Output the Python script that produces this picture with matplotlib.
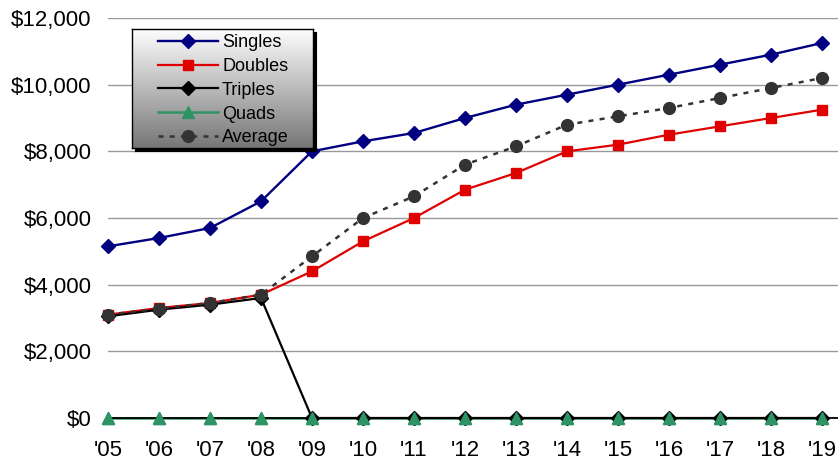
import numpy as np
import matplotlib.pyplot as plt
from matplotlib.colors import LinearSegmentedColormap

plt.rcParams['font.family'] = ['Liberation Sans', 'DejaVu Sans']

# yearly values per room type
years = ["'05", "'06", "'07", "'08", "'09", "'10", "'11", "'12",
         "'13", "'14", "'15", "'16", "'17", "'18", "'19"]
singles = [5150, 5400, 5700, 6500, 8000, 8300, 8550, 9000,
           9400, 9700, 10000, 10300, 10600, 10900, 11250]
doubles = [3100, 3300, 3450, 3700, 4400, 5300, 6000, 6850,
           7350, 8000, 8200, 8500, 8750, 9000, 9250]
triples = [3050, 3250, 3400, 3600, 0, 0, 0, 0,
           0, 0, 0, 0, 0, 0, 0]
quads = [0] * 15
average = [3100, 3280, 3450, 3700, 4850, 6000, 6650, 7600,
           8150, 8800, 9050, 9300, 9600, 9900, 10200]

W, H = 838, 461
fig = plt.figure(figsize=(W / 100, H / 100), dpi=100)


def px_box(x0, y0, x1, y1):
    # pixel box (top-left origin) -> figure fraction rect
    return [x0 / W, 1 - y1 / H, (x1 - x0) / W, (y1 - y0) / H]


ax = fig.add_axes(px_box(108, 18, W, 418))
x = np.arange(len(years))

ax.plot(x, singles, color='#000080', lw=1.7, marker='D', ms=7,
        clip_on=False, label='Singles')
ax.plot(x, doubles, color='#e00000', lw=1.6, marker='s', ms=7.5,
        clip_on=False, label='Doubles')
ax.plot(x, quads, color='#2e9463', lw=1.8, marker='^', ms=8,
        clip_on=False, label='Quads', zorder=2)
# category axis line sits over the zero series
ax.axhline(0, color='black', lw=1.3, zorder=2.05, clip_on=False)
ax.plot(x, triples, color='black', lw=1.6, marker='D', ms=7,
        clip_on=False, label='Triples', zorder=2.1)
# keep the quad markers above the triples line at zero
ax.plot(x, quads, color='#2e9463', ls='none', marker='^', ms=8,
        clip_on=False, zorder=2.2)
ax.plot(x, average, color='#333333', lw=1.8, ls=(0, (2, 2.5)), marker='o',
        ms=8.5, clip_on=False, label='Average', zorder=2.3)

ax.set_xlim(0, (W - 108) / 51)
ax.set_ylim(0, 12000)
ax.set_yticks(range(0, 12001, 2000))
ax.yaxis.set_major_formatter(lambda v, p: f'${v:,.0f}')
ax.set_xticks(x, years)
ax.tick_params(length=0, labelsize=16)
ax.tick_params(axis='y', pad=12)
ax.tick_params(axis='x', pad=16)
ax.grid(axis='y', color='#999999', lw=1)
ax.set_axisbelow(True)
for s in ax.spines.values():
    s.set_visible(False)

# legend box: black drop shadow and a white-to-grey gradient
shadow = fig.add_axes(px_box(135, 32, 316, 151), zorder=3)
shadow.set_facecolor('black')
shadow.set_xticks([])
shadow.set_yticks([])

box = fig.add_axes(px_box(132, 29, 313, 148), zorder=4)
grad = np.linspace(1, 0, 256).reshape(-1, 1)
cmap = LinearSegmentedColormap.from_list('fade', ['#767676', '#ffffff'])
box.imshow(grad, aspect='auto', cmap=cmap, extent=(0, 1, 0, 1))
box.set_xticks([])
box.set_yticks([])
for s in box.spines.values():
    s.set_color('black')
    s.set_linewidth(1)

handles, labels = ax.get_legend_handles_labels()
order = [labels.index(n) for n in ['Singles', 'Doubles', 'Triples', 'Quads', 'Average']]
leg = fig.legend([handles[i] for i in order], [labels[i] for i in order],
                 loc='upper left', bbox_to_anchor=(158 / W, 1 - 34 / H),
                 frameon=False, fontsize=13, handlelength=3.3,
                 handletextpad=0.25, labelspacing=0.38, borderpad=0,
                 borderaxespad=0)
leg.set_zorder(10)

fig.savefig('out.png', dpi=100)
